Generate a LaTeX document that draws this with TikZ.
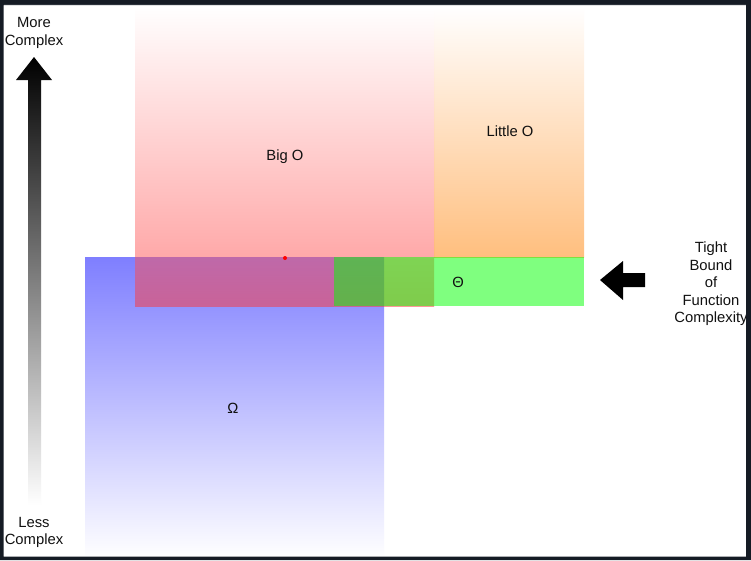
\documentclass[tikz,border=0pt]{standalone}
\usepackage{fontspec}
\setmainfont{Liberation Sans}
\definecolor{frame}{HTML}{151B24}
\definecolor{framelight}{HTML}{2C323B}
\definecolor{redc}{HTML}{FF3333}
\definecolor{orangec}{HTML}{FF8000}
\definecolor{bluec}{HTML}{0000FF}
\definecolor{greenc}{HTML}{00FF00}
\definecolor{txt}{HTML}{111111}
\begin{document}
\begin{tikzpicture}[x=1pt,y=-1pt,
  lbl/.style={font=\fontsize{14.8}{17.5}\selectfont, inner sep=0pt, align=center, text=txt}]
\useasboundingbox (0,0) rectangle (751,560);
\fill[white] (0,0) rectangle (751,560);
% Omega region (blue)
\shade[top color=bluec, bottom color=white, opacity=0.5] (85,257) rectangle (384,556.5);
% Big O region (red)
\shade[top color=white, bottom color=redc, opacity=0.5] (135,8) rectangle (434,306);
% Little o region (orange)
\shade[top color=white, bottom color=orangec, opacity=0.5] (434,8) rectangle (584,257);
% Theta band (green)
\fill[greenc, opacity=0.5] (334,257) rectangle (584,306);
% red dot
\fill[red] (285,258) circle (2);
% complexity arrow
\shade[top color=black, bottom color=white] (34,57) -- (52,80) -- (41,80) -- (41,505) -- (28,505) -- (28,80) -- (16,80) -- cycle;
% tight bound arrow
\fill[black] (600,280) -- (623,261) -- (623,273) -- (645,273) -- (645,287) -- (623,287) -- (623,300) -- cycle;
% labels
\node[lbl] (bigo) at (285,157) {Big O};
\node[lbl] (littleo) at (510,131) {Little O};
\node[lbl] (theta) at (458,282) {Θ};
\node[lbl] (omega) at (233,408) {Ω};
\node[lbl] (more) at (34,33) {More\\Complex};
\node[lbl] (less) at (34,532.5) {Less\\Complex};
\node[lbl] (tight) at (711,284) {Tight\\Bound\\of\\Function\\Complexity};
% dark frame
\fill[frame, even odd rule] (0,0) rectangle (751,560) (3.5,5) rectangle (746,556.5);
\fill[framelight] (3.5,3.8) rectangle (746,5);
\end{tikzpicture}
\end{document}
